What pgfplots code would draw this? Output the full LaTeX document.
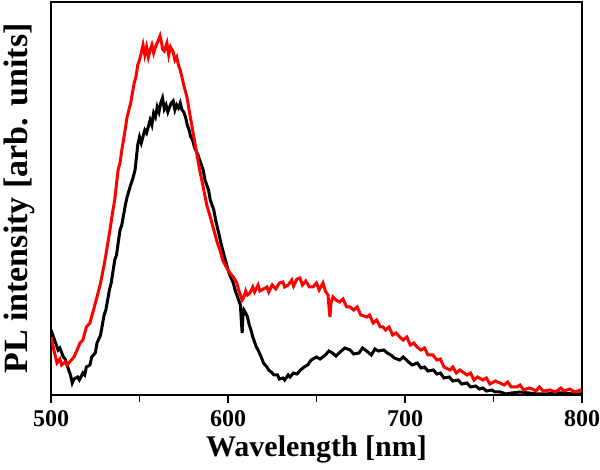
\documentclass[border=0pt]{standalone}
\usepackage{pgfplots}
\pgfplotsset{compat=1.18}
\usepackage{fontspec}
\setmainfont{Liberation Serif}
\begin{document}
\begin{tikzpicture}
\begin{axis}[
  name=ax,
  at={(0,0)}, anchor=south west,
  scale only axis,
  width=265.5pt, height=196.5pt,
  xmin=500, xmax=800, ymin=0, ymax=393,
  xtick={500,600,700,800},
  minor x tick num=1,
  ytick=\empty,
  xtick pos=bottom,
  tick align=outside,
  major tick length=4pt,
  minor tick length=3.5pt,
  every tick/.style={line width=0.8pt, black},
  axis line style={line width=0.9pt},
  /pgf/number format/assume math mode=true,
  ticklabel style={font=\fontsize{12}{14}\selectfont\bfseries},
  xticklabel style={anchor=base, yshift=-12pt},
  xlabel={Wavelength [nm]},
  ylabel={PL intensity [arb. units]},
  xlabel style={font=\fontsize{15}{17}\selectfont\bfseries, at={(axis description cs:0.5,0)}, anchor=base, yshift=-31pt},
  ylabel style={font=\fontsize{17}{19}\selectfont\bfseries, at={(axis description cs:0,0.5)}, anchor=base, yshift=11.5pt},
]
\addplot[black, line width=1.5pt] coordinates {
(500,65)(501,60)(502,55)(503,50)(504,45)(505,47)(507,38)(508,36)(510,25)(511,20)(512,12)(513,16)(515,18)(516,15)(518,22)(519,20)(520,28)(522,30)(523,38)(525,42)(526,52)(528,60)(530,80)(531,85)(533,105)(534,112)(536,135)(537,140)(539,165)(540,170)(542,190)(543,198)(545,210)(546,215)(547.5,225)(549,250)(550,258)(551,252)(553,265)(554,262)(556,275)(557,270)(558,282)(559,278)(560,288)(561,283)(562,292)(563,297)(564,286)(565,290)(566,283)(567,288)(568,292)(569,294)(570,285)(571,290)(572,287)(573,292)(574,285)(575,283)(576,278)(577,270)(578,265)(579,258)(580,255)(581,248)(583,240)(584,235)(586,225)(587,215)(589,205)(590,195)(592,185)(593,175)(595,160)(596,152)(597,145)(599,132)(600,125)(601,120)(603,112)(604,105)(605,100)(606,95)(607,90)(607.5,75)(608,62)(608.5,80)(609,85)(610,82)(611,78)(612,70)(613,65)(614,58)(616,48)(617,45)(619,37)(620,32)(622,28)(623,25)(625,22)(626,20)(628,20)(629,16)(631,17)(632,15)(634,20)(635,18)(637,22)(639,21)(641,25)(643,28)(645,30)(647,35)(650,38)(652,36)(655,40)(657,44)(659,42)(661,39)(664,44)(666,47)(669,45)(671,41)(674,42)(676,47)(679,43)(681,40)(683,46)(685,44)(688,45)(690,42)(692,40)(694,37)(697,35)(699,38)(702,33)(704,30)(707,32)(709,27)(711,28)(713,24)(716,25)(718,21)(720,22)(722,17)(725,18)(727,14)(730,15)(732,11)(735,12)(737,8)(740,9)(742,6)(744,7)(746,4)(749,5)(751,3)(754,3)(757,1)(760,2)(765,3)(770,2)(775,1)(780,1)(785,2)(790,2)(795,1)(800,1)
};
\addplot[red, line width=1.5pt] coordinates {
(500,58)(501,50)(502,42)(503.4,32)(505,36)(506,30)(508,33)(509,30)(511,34)(513,38)(514,42)(516.4,52)(518,55)(520,68)(522,72)(524,85)(526,98)(528,112)(530,130)(531,140)(533.3,165)(535,185)(536,195)(537.9,225)(539,232)(540,245)(541,255)(543,278)(544,285)(545,292)(546.3,305)(547,312)(548,318)(549,330)(550,335)(551,342)(552,350)(553,340)(554,348)(555,338)(556,345)(557,350)(558,342)(559,348)(560,352)(561,356)(561.6,359)(562.5,352)(563,346)(564,344)(565.5,352)(566.5,340)(567.5,348)(569,343)(570,335)(571,338)(572,330)(573,325)(574,318)(575,310)(576.8,298)(578,285)(579,275)(580,265)(581,255)(582,245)(584,225)(586,208)(588,190)(590,178)(592,165)(594,152)(595.5,145)(597,135)(599,128)(601,122)(603,118)(605,112)(606,105)(607,100)(608,95)(609,98)(610,104)(611,100)(612.4,102)(614,108)(615,103)(617,110)(618,104)(620,106)(622,108)(623,103)(625,110)(627,106)(629,112)(631,113)(632,108)(634,110)(636,115)(637,109)(639,116)(640.7,117)(642,110)(644,114)(646,108)(648,108)(650,112)(651.5,105)(653.7,112)(655,104)(656.5,100)(657.2,85)(657.6,78)(658.2,92)(659.3,98)(661,95)(663,93)(665,96)(667,88)(669,88)(671,85)(673,88)(675,80)(678.5,78)(680,80)(682,72)(684,75)(686,68)(687.6,68)(689,65)(691,68)(693,60)(695,62)(697,58)(699,55)(701,58)(703,50)(705,52)(706.8,48)(709,45)(711,47)(713,40)(715.8,40)(718,35)(720,36)(722,28)(725.4,25)(727,28)(729,22)(731,25)(735,20)(737,22)(739,15)(741,18)(744,15)(746,17)(748,11)(751,14)(753.7,12)(756,10)(758,13)(760,8)(763,8)(765,10)(767,5)(770,7)(772,6)(774,4)(776,8)(778,4)(782,5)(785,3)(788,7)(790,4)(793,6)(796,3)(799,5)(800,4)
};
\end{axis}
\pgfresetboundingbox
\path[use as bounding box] (-25.5pt,-37.5pt) rectangle (274.5pt,197.5pt);
\end{tikzpicture}
\end{document}
